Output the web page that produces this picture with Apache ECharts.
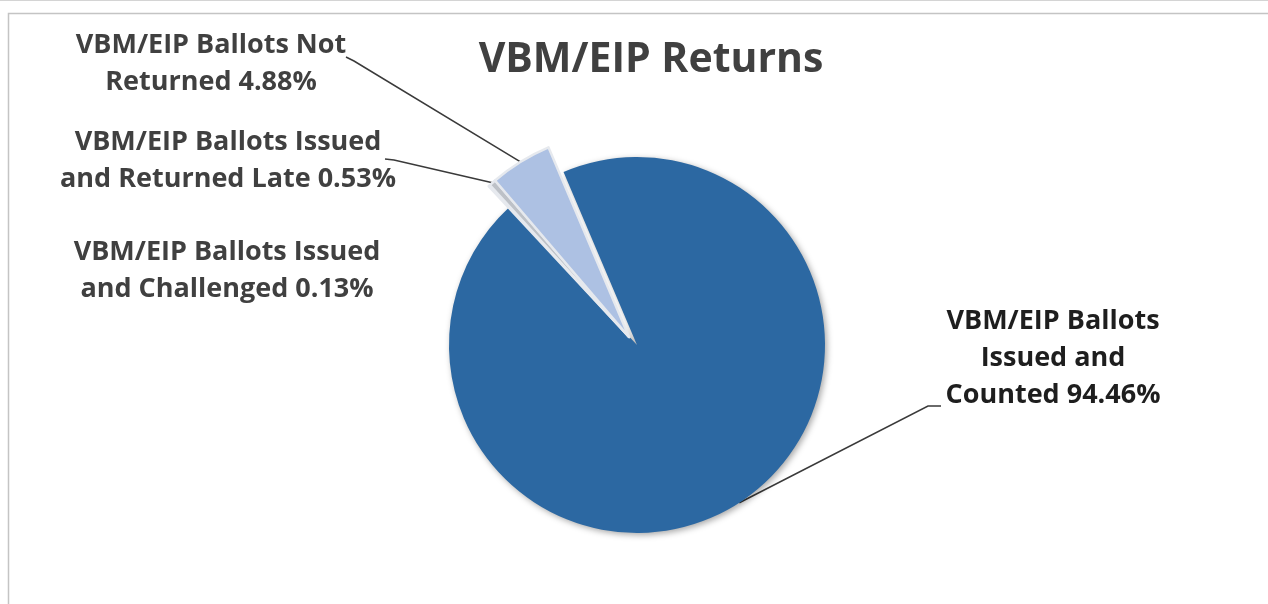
<!DOCTYPE html>
<html>
<head>
<meta charset="utf-8">
<script src="https://cdn.jsdelivr.net/npm/echarts@6/dist/echarts.min.js"></script>
<style>
  html, body { margin: 0; padding: 0; background: #fff; }
  #chart { width: 1268px; height: 604px; }
</style>
</head>
<body>
<div id="chart"></div>
<script>
// data, in drawing order (clockwise from the top-left cut)
var categories = [
  'VBM/EIP Ballots Issued and Counted',
  'VBM/EIP Ballots Issued and Challenged',
  'VBM/EIP Ballots Issued and Returned Late',
  'VBM/EIP Ballots Not Returned'
]
var labelText = [
  'VBM/EIP Ballots\nIssued and\nCounted',
  'VBM/EIP Ballots Issued\nand Challenged',
  'VBM/EIP Ballots Issued\nand Returned Late',
  'VBM/EIP Ballots Not\nReturned'
]
var percents = [94.46, 0.13, 0.53, 4.88]
var colors = ['#2c68a2', '#c6c9ce', '#bdc1c7', '#adc1e3']
var exploded = [false, true, true, true]

// label placement (centre of text block) and leader line bend / end
var labelPos = [[1053, 358], [227, 271], [228, 161], [211, 64]]
var leader = [
  [[928, 406], [941, 406]],
  null,
  [[394, 160], [385, 159]],
  [[354, 61], [346, 57]]
]

var myChart = echarts.init(document.getElementById('chart'))

var labelFont = {
  fontFamily: 'Open Sans',
  fontWeight: 'bold',
  fontSize: 27,
  lineHeight: 37,
  align: 'center',
  formatter: function (p) {
    return labelText[p.dataIndex] + ' ' + p.value.toFixed(2) + '%'
  }
}

function placeLabel(params) {
  var i = params.dataIndex
  var res = {
    x: labelPos[i][0],
    y: labelPos[i][1],
    align: 'center',
    verticalAlign: 'middle'
  }
  if (leader[i] && params.labelLinePoints) {
    res.labelLinePoints = [params.labelLinePoints[0], leader[i][0], leader[i][1]]
  }
  return res
}

// main pie: the counted slice, the others left as a hole
var mainData = []
// pulled-out pie: only the small slices
var outData = []
for (let i = 0; i < categories.length; i++) {
  mainData.push({
    name: categories[i],
    value: percents[i],
    itemStyle: { color: exploded[i] ? 'rgba(0,0,0,0)' : colors[i], shadowBlur: exploded[i] ? 0 : 6 },
    label: { show: !exploded[i] },
    labelLine: { show: !exploded[i] }
  })
  outData.push({
    name: categories[i],
    value: percents[i],
    itemStyle: exploded[i]
      ? { color: colors[i], borderColor: '#e6e9ee', borderWidth: 2.5 }
      : { color: 'rgba(0,0,0,0)', borderWidth: 0 },
    label: { show: exploded[i] },
    labelLine: { show: exploded[i] && leader[i] != null }
  })
}

var option = {
  backgroundColor: '#fff',
  animation: false,
  title: {
    text: 'VBM/EIP Returns',
    left: 646,
    top: 35,
    textAlign: 'center',
    textStyle: {
      fontFamily: 'Open Sans',
      fontWeight: 'bold',
      fontSize: 41,
      color: '#404040'
    }
  },
  graphic: [
    { type: 'rect', shape: { x: 8.5, y: 13.5, width: 1400, height: 800 }, style: { fill: 'none', stroke: '#c4c4c4', lineWidth: 1.5 }, silent: true },
    { type: 'line', shape: { x1: 0, y1: 0.5, x2: 1268, y2: 0.5 }, style: { stroke: '#d4d4d4', lineWidth: 1 }, silent: true }
  ],
  series: [
    {
      type: 'pie',
      center: [637, 345],
      radius: 188,
      startAngle: 113,
      clockwise: true,
      percentPrecision: 2,
      silent: true,
      itemStyle: {
        shadowColor: 'rgba(0,0,0,0.35)',
        shadowOffsetX: 2,
        shadowOffsetY: 2
      },
      label: Object.assign({ color: '#1e1e1e' }, labelFont),
      labelLine: { lineStyle: { color: '#3a3a3a', width: 1.5 } },
      labelLayout: placeLabel,
      data: mainData
    },
    {
      type: 'pie',
      center: [629, 337],
      radius: 206,
      startAngle: 113,
      clockwise: true,
      percentPrecision: 2,
      silent: true,
      label: Object.assign({ color: '#404040' }, labelFont),
      labelLine: { length: 5, length2: 5, lineStyle: { color: '#3a3a3a', width: 1.5 } },
      labelLayout: placeLabel,
      data: outData
    }
  ]
}

myChart.setOption(option)
</script>
</body>
</html>
